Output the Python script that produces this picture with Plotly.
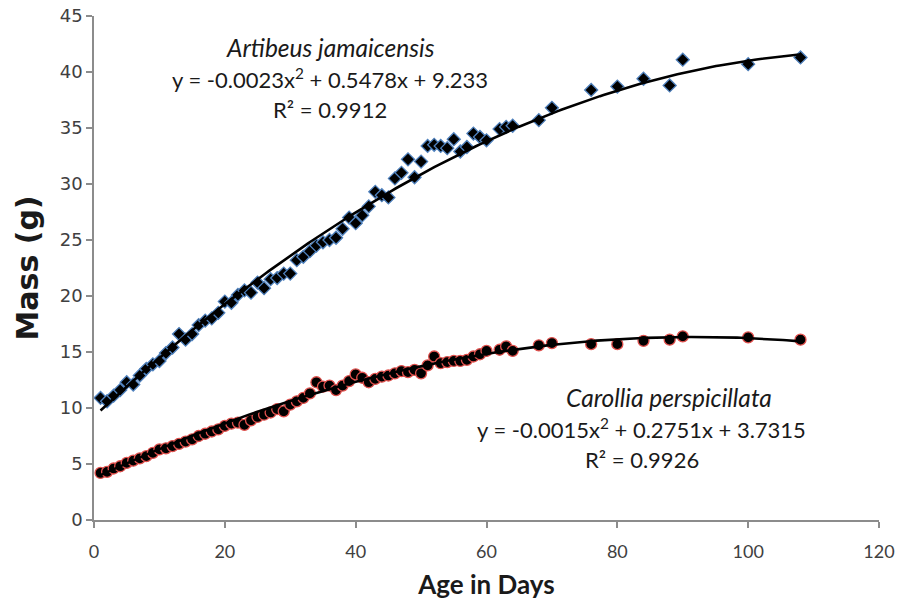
import numpy as np
import plotly.graph_objects as go

# Artibeus jamaicensis: age (days) and mass (g)
artibeus_days = list(range(1, 61)) + [62, 63, 64, 68, 70, 76, 80, 84, 88, 90, 100, 108]
artibeus_mass = [
    10.9, 10.6, 11.1, 11.6, 12.3, 12.1, 12.9, 13.5, 13.9, 14.2,
    14.9, 15.4, 16.6, 16.1, 16.6, 17.4, 17.8, 18.0, 18.5, 19.5,
    19.4, 20.1, 20.5, 20.3, 21.2, 20.7, 21.5, 21.6, 22.0, 22.0,
    23.2, 23.5, 24.0, 24.5, 24.8, 25.0, 25.2, 26.0, 27.0, 26.5,
    27.2, 28.0, 29.3, 29.0, 28.8, 30.5, 31.0, 32.2, 30.6, 32.0,
    33.4, 33.5, 33.4, 33.2, 34.0, 32.9, 33.3, 34.5, 34.2, 33.9,
    34.9, 35.1, 35.2, 35.7, 36.8, 38.4, 38.7, 39.4, 38.8, 41.1, 40.7, 41.3,
]

# Carollia perspicillata: age (days) and mass (g)
carollia_days = list(range(1, 61)) + [62, 63, 64, 68, 70, 76, 80, 84, 88, 90, 100, 108]
carollia_mass = [
    4.2, 4.3, 4.6, 4.8, 5.1, 5.3, 5.5, 5.7, 6.0, 6.3,
    6.4, 6.6, 6.8, 7.0, 7.2, 7.5, 7.7, 7.9, 8.1, 8.4,
    8.6, 8.7, 8.5, 8.9, 9.2, 9.4, 9.6, 9.9, 9.7, 10.3,
    10.6, 10.9, 11.3, 12.3, 11.9, 12.0, 11.6, 12.0, 12.4, 13.0,
    12.7, 12.3, 12.6, 12.8, 12.9, 13.1, 13.3, 13.2, 13.4, 13.1,
    13.8, 14.6, 14.0, 14.1, 14.2, 14.2, 14.3, 14.6, 14.8, 15.1,
    15.2, 15.5, 15.1, 15.6, 15.8, 15.7, 15.7, 16.0, 16.1, 16.4, 16.3, 16.1,
]

# Quadratic trendline coefficients (a, b, c) for y = a*x^2 + b*x + c
artibeus_fit = (-0.0023, 0.5478, 9.233)
carollia_fit = (-0.0015, 0.2751, 3.7315)

x_ticks = [0, 20, 40, 60, 80, 100, 120]
y_ticks = [0, 5, 10, 15, 20, 25, 30, 35, 40, 45]

FONT = "Lato, 'Open Sans', sans-serif"
WIDE = "'DejaVu Sans', Lato, sans-serif"

W, H = 898, 604
ML, MR, MT, MB = 94, 19, 16, 84


def trend(coef, days):
    x = np.linspace(min(days), max(days), 200)
    a, b, c = coef
    return x, a * x ** 2 + b * x + c


def to_paper(px, py):
    # convert a page pixel position into plot-area paper coordinates
    return (px - ML) / (W - ML - MR), (H - MB - py) / (H - MT - MB)


fig = go.Figure()

fig.add_trace(go.Scatter(
    x=artibeus_days, y=artibeus_mass, mode="markers",
    marker=dict(symbol="diamond", size=10, color="black",
                line=dict(color="#4F81BD", width=1.3)),
    showlegend=False,
))
fig.add_trace(go.Scatter(
    x=carollia_days, y=carollia_mass, mode="markers",
    marker=dict(symbol="circle", size=11, color="black",
                line=dict(color="#E0504D", width=1.3)),
    showlegend=False,
))

for coef, days in ((artibeus_fit, artibeus_days), (carollia_fit, carollia_days)):
    tx, ty = trend(coef, days)
    fig.add_trace(go.Scatter(x=tx, y=ty, mode="lines",
                             line=dict(color="black", width=2.6),
                             showlegend=False, hoverinfo="skip"))

eq_font = dict(family=FONT, size=22, color="#1a1a1a")
name_font = dict(family=FONT, size=24.5, color="#1a1a1a")
annotations = [
    (330, 47, "<i>Artibeus jamaicensis</i>", name_font),
    (330, 78, "y = -0.0023x<sup>2</sup> + 0.5478x + 9.233", eq_font),
    (330, 109, "R² = 0.9912", eq_font),
    (669, 397, "<i>Carollia perspicillata</i>", name_font),
    (641, 428, "y = -0.0015x<sup>2</sup> + 0.2751x + 3.7315", eq_font),
    (642, 459, "R² = 0.9926", eq_font),
]
for px, py, txt, fnt in annotations:
    xp, yp = to_paper(px, py)
    fig.add_annotation(x=xp, y=yp, xref="paper", yref="paper",
                       text=txt, showarrow=False, font=fnt,
                       xanchor="center", yanchor="middle")

axis_common = dict(
    showgrid=False, zeroline=False, showline=True, linecolor="#8C8C8C", linewidth=1.5,
    ticks="outside", ticklen=6, tickwidth=1.5, tickcolor="#8C8C8C", automargin=False,
)

fig.update_layout(
    width=W, height=H,
    margin=dict(l=ML, r=MR, t=MT, b=MB),
    paper_bgcolor="white", plot_bgcolor="white",
    xaxis=dict(range=[0, 120], tickvals=x_ticks, **axis_common,
               tickfont=dict(family=FONT, size=18, color="#404040"),
               ticklabelstandoff=9,
               title=dict(text="<b>Age in Days</b>", standoff=14,
                          font=dict(family=FONT, size=26, color="#1a1a1a"))),
    yaxis=dict(range=[0, 45], tickvals=y_ticks, **axis_common,
               tickfont=dict(family=WIDE, size=18, color="#404040"),
               title=dict(text="<b>Mass (g)</b>", standoff=12,
                          font=dict(family=WIDE, size=30, color="#1a1a1a"))),
)

fig.write_html("out.html")
